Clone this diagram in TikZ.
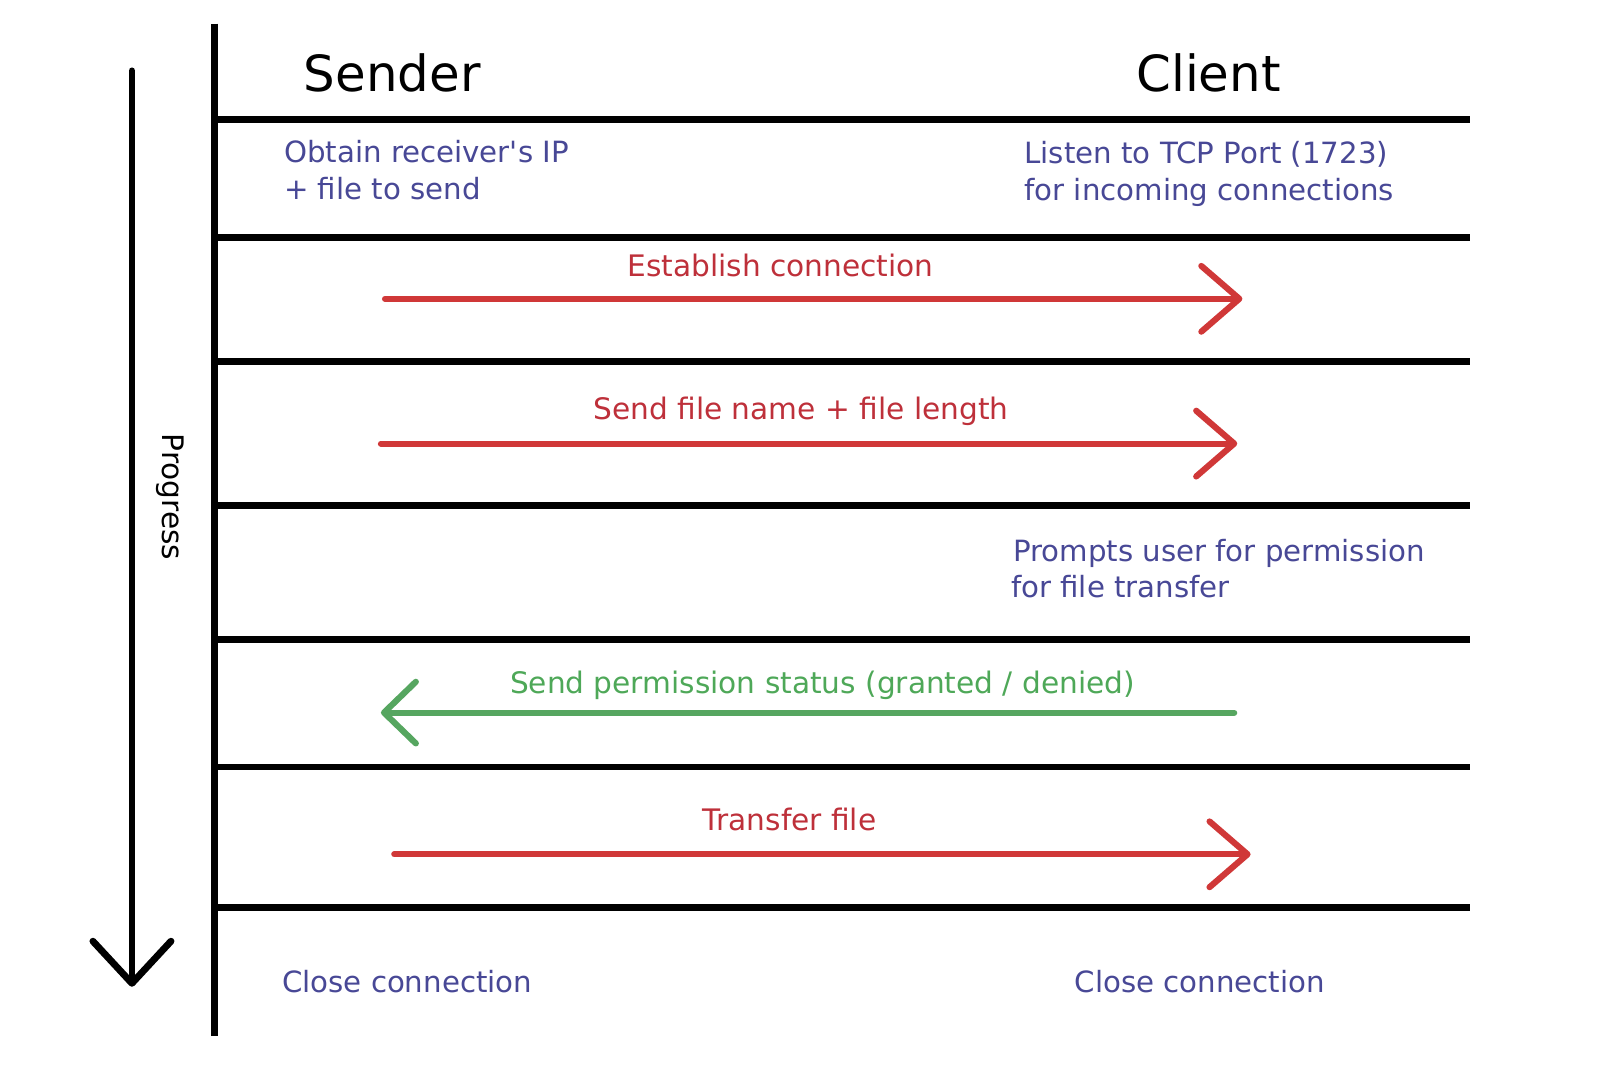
\documentclass[tikz,border=0pt]{standalone}
\usepackage{fontspec}
\setmainfont{DejaVu Sans}
\newfontfamily\rawfont{DejaVu Sans}
\usetikzlibrary{arrows.meta}
\definecolor{txtblue}{RGB}{72,72,150}
\definecolor{txtred}{RGB}{190,48,58}
\definecolor{arrred}{RGB}{208,56,56}
\definecolor{txtgreen}{RGB}{78,168,88}
\definecolor{arrgreen}{RGB}{86,166,96}
\tikzset{
  sep/.style={line width=1.9pt, black},
  lifeline/.style={line width=1.9pt, black},
  title/.style={inner sep=0pt, font=\fontsize{13.8}{16}\selectfont, text=black},
  note/.style={inner sep=0pt, anchor=base west, font=\fontsize{8.1}{10}\selectfont, text=txtblue},
  msgred/.style={inner sep=0pt, anchor=base, font=\fontsize{8.2}{10}\selectfont, text=txtred},
  msggreen/.style={inner sep=0pt, anchor=base, font=\fontsize{8.2}{10}\selectfont, text=txtgreen},
  redarrow/.style={line width=1.7pt, arrred, line cap=round, -{Straight Barb[length=3.7mm, width=6.4mm, line cap=round, line join=round]}},
  greenarrow/.style={line width=1.7pt, arrgreen, line cap=round, -{Straight Barb[length=3.1mm, width=6.0mm, line cap=round, line join=round]}},
  progarrow/.style={line width=1.9pt, black, line cap=round, -{Straight Barb[length=4.1mm, width=7.6mm, line cap=round, line join=round]}},
}
\begin{document}
\begin{tikzpicture}[x=0.01cm, y=-0.01cm]
\useasboundingbox (0,0) rectangle (1568,1056);
\fill[white] (0,0) rectangle (1568,1056);

% progress arrow
\coordinate (pTop) at (128.5,69);
\coordinate (pBot) at (128.5,961);
\draw[progarrow] (pTop) -- (pBot);
\node[inner sep=0pt, rotate=-90, font=\fontsize{8.2}{10}\selectfont] (prog) at (166,484) {Progress};

% vertical lifeline
\coordinate (vTop) at (209,23);
\coordinate (vBot) at (209,1009);
\draw[lifeline] (vTop) -- (vBot);

% separators
\foreach \yy/\nm in {116/s1, 231/s2, 352/s3, 492/s4, 623/s5, 747/s6, 884/s7} {
  \coordinate (\nm a) at (209,\yy);
  \coordinate (\nm b) at (1432,\yy);
  \draw[sep] (\nm a) -- (\nm b);
}

% titles
\node[title, anchor=base] (sender) at (382,89) {Sender};
\node[title, anchor=base] (client) at (1177,89) {Client};

% notes
\node[note] (obt1) at (276,158) {Obtain receiver{\rawfont'}s IP};
\node[note] (obt2) at (276,194) {+ file to send};
\node[note] (lis1) at (997,159) {Listen to TCP Port (1723)};
\node[note] (lis2) at (997,195) {for incoming connections};
\node[note] (pr1) at (986,547) {Prompts user for permission};
\node[note] (pr2) at (984,582) {for file transfer};
\node[note] (cl1) at (274,967) {Close connection};
\node[note] (cl2) at (1046,967) {Close connection};

% messages
\node[msgred] (m1) at (760,269) {Establish connection};
\coordinate (m1s) at (375,291);
\coordinate (m1e) at (1210,291);
\draw[redarrow] (m1s) -- (m1e);

\node[msgred] (m2) at (780,409) {Send file name + file length};
\coordinate (m2s) at (371,432);
\coordinate (m2e) at (1205,432);
\draw[redarrow] (m2s) -- (m2e);

\node[msggreen] (m3) at (801,675) {Send permission status (granted / denied)};
\coordinate (m3s) at (1202,694);
\coordinate (m3e) at (371,694);
\draw[greenarrow] (m3s) -- (m3e);

\node[msgred] (m4) at (769,809) {Transfer file};
\coordinate (m4s) at (384,832);
\coordinate (m4e) at (1218,832);
\draw[redarrow] (m4s) -- (m4e);
\end{tikzpicture}
\end{document}
